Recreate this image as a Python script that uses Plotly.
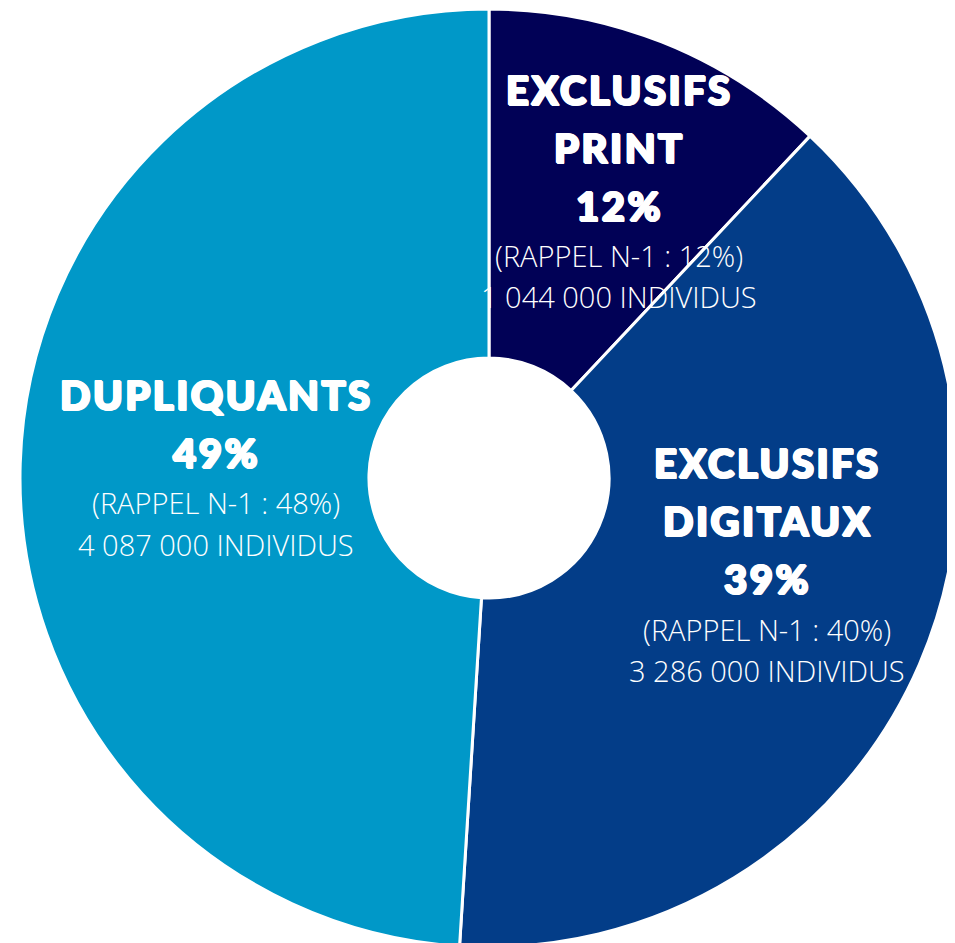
import plotly.graph_objects as go

# ---- data ----
segments = ["EXCLUSIFS PRINT", "EXCLUSIFS DIGITAUX", "DUPLIQUANTS"]
shares = [12, 39, 49]
previous_shares = [12, 40, 48]
individuals = ["1 044 000", "3 286 000", "4 087 000"]
title_lines = [["EXCLUSIFS", "PRINT"], ["EXCLUSIFS", "DIGITAUX"], ["DUPLIQUANTS"]]
colors = ["#010156", "#033D88", "#0098C8"]

W, H = 955, 943
BODY = 8  # default page margin of the html body
ML, MR, MT, MB = 12, 5, 1, 4
PW, PH = W - ML - MR, H - MT - MB

fig = go.Figure(go.Pie(
    labels=segments, values=shares, sort=False, direction="clockwise",
    rotation=0, hole=0.256, textinfo="none", hoverinfo="label+percent",
    marker=dict(colors=colors, line=dict(color="white", width=3)),
    showlegend=False,
))

# label block placement (screen pixels): centre x, y of first line
blocks = [(619, 90), (767, 463), (216, 395)]
BOLD_STEP, GAP, LIGHT_STEP = 58, 50, 41

def px2paper(x, y):
    return (x - BODY - ML) / PW, 1 - (y - BODY - MT) / PH

HEAVY = "1px 0 0 white, -1px 0 0 white, 0 1px 0 white, 0 -1px 0 white, 1px 1px 0 white, -1px -1px 0 white"
BOLD_FONT = dict(family="Lato", size=40, weight=900, color="white", shadow=HEAVY)
LIGHT_FONT = dict(family="Open Sans", size=29, weight=300, color="white")

anns = []
for i in range(len(segments)):
    cx, y = blocks[i]
    bold = title_lines[i] + [f"{shares[i]}%"]
    light = [f"(RAPPEL N-1 : {previous_shares[i]}%)", f"{individuals[i]} INDIVIDUS"]
    for j, t in enumerate(bold):
        if j > 0:
            y += BOLD_STEP
        x0, y0 = px2paper(cx, y)
        anns.append(dict(x=x0, y=y0, xref="paper", yref="paper",
                         text=f'<span style="letter-spacing:2.5px">{t}</span>', showarrow=False,
                         xanchor="center", yanchor="middle", font=BOLD_FONT))
    y += GAP
    for j, t in enumerate(light):
        if j > 0:
            y += LIGHT_STEP
        x0, y0 = px2paper(cx, y)
        anns.append(dict(x=x0, y=y0, xref="paper", yref="paper", text=t, showarrow=False,
                         xanchor="center", yanchor="middle", font=LIGHT_FONT))

fig.update_layout(
    width=W, height=H, margin=dict(l=ML, r=MR, t=MT, b=MB),
    paper_bgcolor="white", plot_bgcolor="white", annotations=anns,
)
fig.write_html("out.html")
